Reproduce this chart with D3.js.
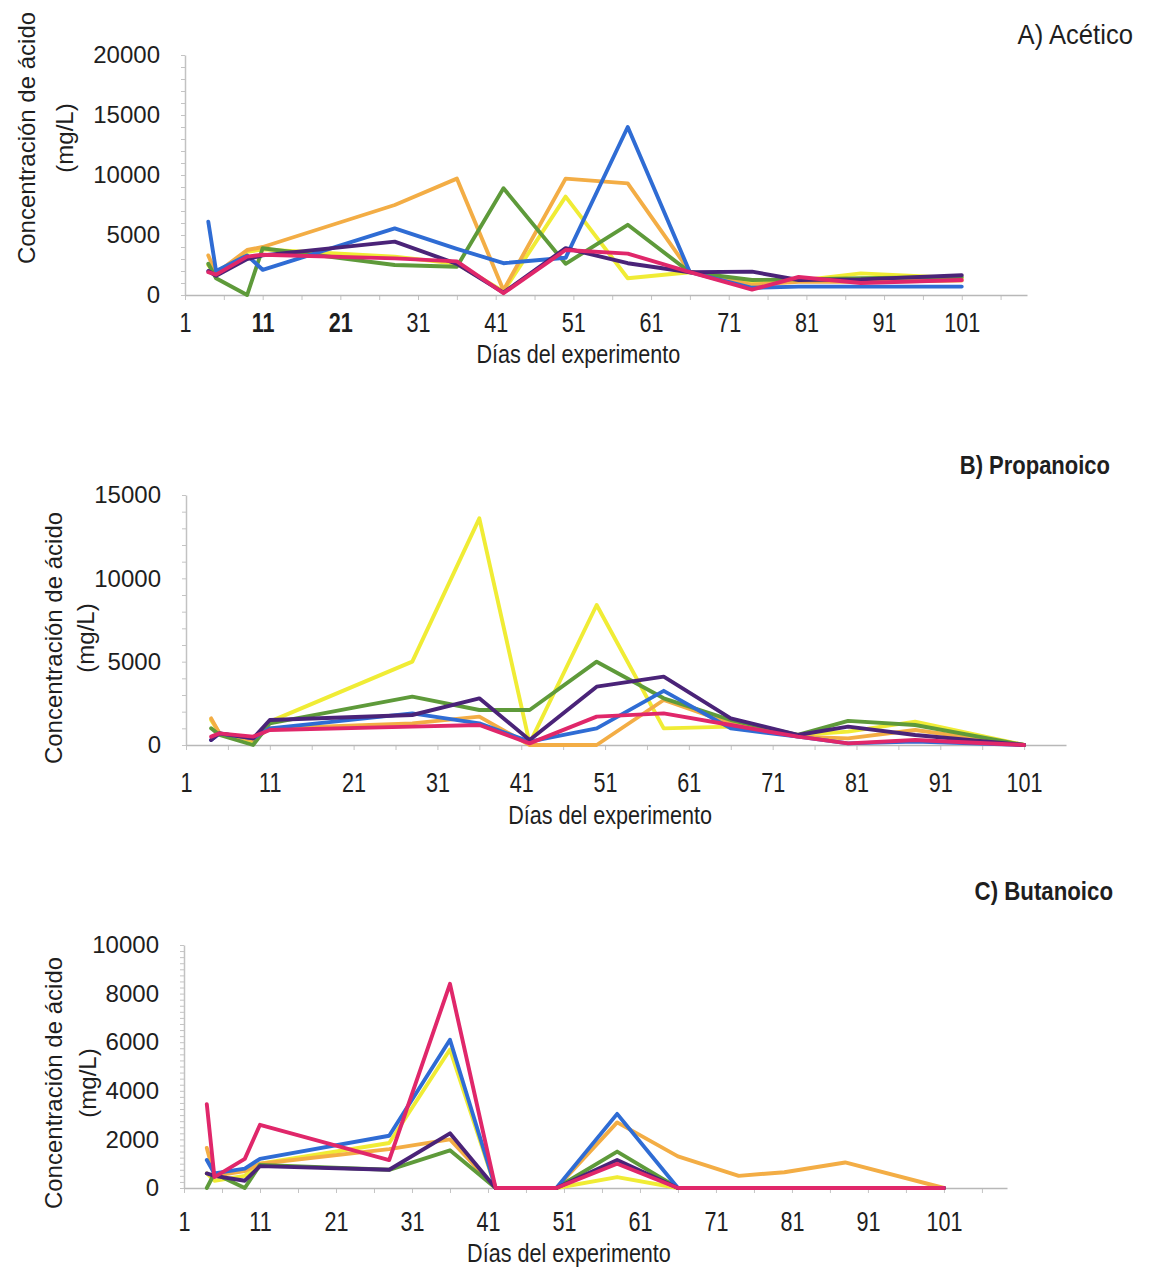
<!DOCTYPE html>
<html>
<head>
<meta charset="utf-8">
<script src="https://cdn.jsdelivr.net/npm/d3@7"></script>
<style>
  html, body { margin: 0; padding: 0; background: #ffffff; }
  svg { display: block; }
  .tick-y text { font-family: "Liberation Sans", Arial, sans-serif; font-size: 24px; fill: #1e1e1e; }
  .tick-x text { font-family: "Liberation Sans", Arial, sans-serif; font-size: 27px; fill: #1e1e1e; }
</style>
</head>
<body>
<svg id="chart" width="1152" height="1269"></svg>
<script>
// Sampling days of the experiment
const days = [4, 5, 9, 11, 28, 36, 42, 50, 58, 66, 74, 80, 88, 101];
const xTickLabels = [1, 11, 21, 31, 41, 51, 61, 71, 81, 91, 101];

// Line colours, in drawing order
const seriesColors = ["#f0ec35", "#f3ad45", "#5e9a3a", "#2f6cd4", "#4a2378", "#e0276a"];

// A) Acético (mg/L)
const aceticoAmarillo = [2500, 1700, 3600, 3800, 3200, 2600, 300, 8200, 1400, 1900, 1000, 1200, 1800, 1400];
const aceticoNaranja  = [3300, 1800, 3750, 4000, 7500, 9700, 400, 9700, 9300, 1950, 850, 1100, 1100, 1200];
const aceticoVerde    = [2600, 1400, 0, 3900, 2500, 2350, 8900, 2600, 5850, 1900, 1250, 1300, 1400, 1500];
const aceticoAzul     = [6100, 2000, 3300, 2100, 5550, 3850, 2650, 3100, 14000, 1900, 600, 700, 700, 700];
const aceticoMorado   = [2000, 1600, 3000, 3300, 4450, 2600, 200, 3900, 2650, 1900, 1950, 1250, 1300, 1650];
const aceticoMagenta  = [1900, 1700, 3200, 3350, 3050, 2800, 150, 3750, 3450, 1900, 450, 1500, 1000, 1250];

// B) Propanoico (mg/L)
const propanoicoAmarillo = [1500, 700, 100, 1400, 5000, 13600, 100, 8400, 1000, 1100, 600, 800, 1400, 0];
const propanoicoNaranja  = [1600, 700, 300, 1000, 1300, 1700, 0, 0, 2700, 1300, 500, 400, 900, 0];
const propanoicoVerde    = [1000, 600, 0, 1300, 2900, 2100, 2100, 5000, 2800, 1500, 600, 1450, 1200, 0];
const propanoicoAzul     = [300, 700, 400, 1000, 1900, 1300, 200, 1000, 3250, 1000, 500, 100, 200, 0];
const propanoicoMorado   = [300, 700, 400, 1500, 1800, 2800, 300, 3500, 4100, 1600, 600, 1100, 600, 0];
const propanoicoMagenta  = [500, 700, 500, 900, 1100, 1200, 100, 1700, 1900, 1200, 500, 100, 300, 0];

// C) Butanoico (mg/L)
const butanoicoAmarillo = [600, 300, 500, 1000, 1850, 5700, 0, 0, 450, 0, 0, 0, 0, 0];
const butanoicoNaranja  = [1650, 500, 700, 1000, 1600, 2000, 0, 0, 2700, 1300, 500, 650, 1050, 0];
const butanoicoVerde    = [0, 600, 0, 950, 750, 1550, 0, 0, 1500, 0, 0, 0, 0, 0];
const butanoicoAzul     = [1150, 600, 800, 1200, 2150, 6100, 0, 0, 3050, 0, 0, 0, 0, 0];
const butanoicoMorado   = [600, 500, 300, 900, 750, 2250, 0, 0, 1150, 0, 0, 0, 0, 0];
const butanoicoMagenta  = [3450, 450, 1200, 2600, 1150, 8400, 0, 0, 1000, 0, 0, 0, 0, 0];

const yTicksA = [0, 5000, 10000, 15000, 20000];
const yTicksB = [0, 5000, 10000, 15000];
const yTicksC = [0, 2000, 4000, 6000, 8000, 10000];

const FONT = "'Liberation Sans', Arial, sans-serif";
const NARROW = 0.8; // horizontal squeeze for the condensed labels

const svg = d3.select("#chart");

const panels = [
  {
    title: "A) Acético", titleBold: false, titleX: 1133, titleY: 44, titleSize: 27, titleSqueeze: 0.95,
    series: [aceticoAmarillo, aceticoNaranja, aceticoVerde, aceticoAzul, aceticoMorado, aceticoMagenta],
    xDomain: [1, 109.4], xRange: [185, 1027],
    yDomain: [0, 20000], yRange: [295, 55], yTicks: yTicksA, yMinor: 1000,
    boldLabels: [11, 21],
    labelPad: 18, xTitleY: 363, yTitleCenter: 138, yTitleX1: 35, yTitleX2: 73
  },
  {
    title: "B) Propanoico", titleBold: true, titleX: 1110, titleY: 474, titleSize: 25, titleSqueeze: 0.88,
    series: [propanoicoAmarillo, propanoicoNaranja, propanoicoVerde, propanoicoAzul, propanoicoMorado, propanoicoMagenta],
    xDomain: [1, 106], xRange: [186, 1066],
    yDomain: [0, 15000], yRange: [745, 495], yTicks: yTicksB, yMinor: 1000,
    boldLabels: [],
    labelPad: 28, xTitleY: 824, yTitleCenter: 638, yTitleX1: 62, yTitleX2: 94
  },
  {
    title: "C) Butanoico", titleBold: true, titleX: 1113, titleY: 900, titleSize: 25, titleSqueeze: 0.89,
    series: [butanoicoAmarillo, butanoicoNaranja, butanoicoVerde, butanoicoAzul, butanoicoMorado, butanoicoMagenta],
    xDomain: [1, 109.3], xRange: [184, 1007],
    yDomain: [0, 10000], yRange: [1188, 945], yTicks: yTicksC, yMinor: 250,
    boldLabels: [],
    labelPad: 24, xTitleY: 1262, yTitleCenter: 1083, yTitleX1: 62, yTitleX2: 96
  }
];

panels.forEach(p => {
  const x = d3.scaleLinear().domain(p.xDomain).range(p.xRange);
  const y = d3.scaleLinear().domain(p.yDomain).range(p.yRange);
  const g = svg.append("g");
  const x0 = p.xRange[0];
  const y0 = p.yRange[0];

  // minor tick marks on the value axis
  const minor = d3.range(p.yDomain[0], p.yDomain[1] + 1, p.yMinor);
  g.append("g")
    .attr("transform", `translate(${x0},0)`)
    .call(d3.axisLeft(y).tickValues(minor).tickSize(4).tickFormat(""))
    .call(a => a.select(".domain").remove())
    .call(a => a.selectAll("line").attr("stroke", "#c4c4c4").attr("stroke-width", 1));

  // value axis with labels
  g.append("g")
    .attr("class", "tick-y")
    .attr("transform", `translate(${x0},0)`)
    .call(d3.axisLeft(y).tickValues(p.yTicks).tickSize(0).tickPadding(25).tickFormat(d3.format("d")))
    .call(a => a.select(".domain").attr("stroke", "#c2c2c2").attr("stroke-width", 1.5));

  // minor tick marks on the day axis, every five days
  const xMinor = d3.range(1, p.xDomain[1], 5);
  g.append("g")
    .attr("transform", `translate(0,${y0})`)
    .call(d3.axisBottom(x).tickValues(xMinor).tickSize(5).tickFormat(""))
    .call(a => a.select(".domain").remove())
    .call(a => a.selectAll("line").attr("stroke", "#c4c4c4").attr("stroke-width", 1));

  // day axis with condensed labels
  g.append("g")
    .attr("class", "tick-x")
    .attr("transform", `translate(0,${y0})`)
    .call(d3.axisBottom(x).tickValues(xTickLabels).tickSize(0).tickPadding(p.labelPad).tickFormat(d3.format("d")))
    .call(a => a.select(".domain").attr("stroke", "#b8b8b8").attr("stroke-width", 1.5))
    .call(a => a.selectAll("text")
      .attr("transform", `scale(${NARROW},1)`)
      .attr("font-weight", d => p.boldLabels.includes(d) ? "bold" : "normal"));

  // series lines
  const line = d3.line()
    .x((d, i) => x(days[i]))
    .y(d => y(d));
  p.series.forEach((values, i) => {
    g.append("path")
      .datum(values)
      .attr("fill", "none")
      .attr("stroke", seriesColors[i])
      .attr("stroke-width", 3.9)
      .attr("stroke-linejoin", "round")
      .attr("stroke-linecap", "round")
      .attr("d", line);
  });

  // panel title
  g.append("g")
    .attr("transform", `translate(${p.titleX},${p.titleY}) scale(${p.titleSqueeze},1)`)
    .append("text")
    .attr("text-anchor", "end")
    .attr("font-family", FONT)
    .attr("font-size", p.titleSize)
    .attr("font-weight", p.titleBold ? "bold" : "normal")
    .attr("fill", "#1e1e1e")
    .text(p.title);

  // day axis title
  g.append("g")
    .attr("transform", `translate(${(x(1) + x(101)) / 2 + 5},${p.xTitleY}) scale(0.83,1)`)
    .append("text")
    .attr("text-anchor", "middle")
    .attr("font-family", FONT)
    .attr("font-size", 26)
    .attr("fill", "#1e1e1e")
    .text("Días del experimento");

  // value axis title, two lines
  [["Concentración de ácido", p.yTitleX1], ["(mg/L)", p.yTitleX2]].forEach(([t, bx]) => {
    g.append("text")
      .attr("transform", `translate(${bx},${p.yTitleCenter}) rotate(-90)`)
      .attr("text-anchor", "middle")
      .attr("font-family", FONT)
      .attr("font-size", 24)
      .attr("fill", "#1e1e1e")
      .text(t);
  });
});
</script>
</body>
</html>
